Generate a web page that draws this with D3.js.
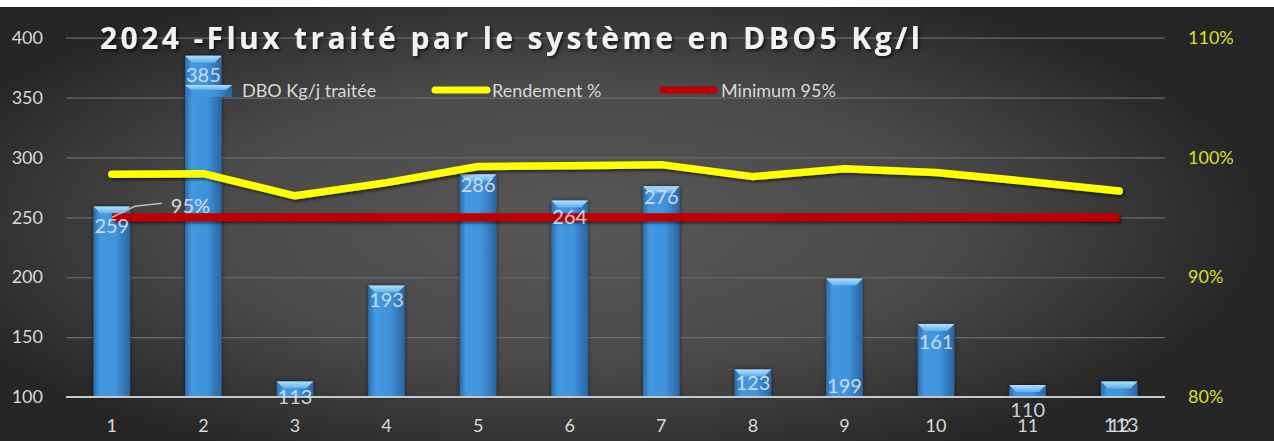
<!DOCTYPE html>
<html>
<head>
<meta charset="utf-8">
<script src="https://cdn.jsdelivr.net/npm/d3@7"></script>
<style>
  html, body { margin: 0; padding: 0; background: #fff; }
  svg { display: block; }
</style>
</head>
<body>
<div id="chart"></div>
<script>
// data
const mois = ["1","2","3","4","5","6","7","8","9","10","11","12"]
const dboTraitee = [259, 385, 113, 193, 286, 264, 276, 123, 199, 161, 110, 113]
const rendement = [98.6, 98.65, 96.8, 97.9, 99.25, 99.3, 99.4, 98.4, 99.05, 98.75, 98.0, 97.2]
const minimum = [95, 95, 95, 95, 95, 95, 95, 95, 95, 95, 95, 95]
const leftTicks = [100, 150, 200, 250, 300, 350, 400]
const rightTicks = [80, 90, 100, 110]

// label nudges (px below bar top), the labels were moved by hand in the original
const labelDy = [19, 19, 16, 14, 11, 16, 11, 14, 108, 18, 25, 44]

const W = 1274, H = 441
const x0 = 66, x1 = 1165, yTop = 37.7, yBot = 397

const svg = d3.select("#chart").append("svg")
    .attr("width", W)
    .attr("height", H)

const defs = svg.append("defs")

/* background */
const bg = defs.append("radialGradient").attr("id", "bg")
    .attr("cx", "45%").attr("cy", "50%").attr("r", "60%")
    .attr("gradientTransform", "translate(0.05,0) scale(0.9,1)")
bg.append("stop").attr("offset", "0%").attr("stop-color", "#585858")
bg.append("stop").attr("offset", "55%").attr("stop-color", "#4a4a4a")
bg.append("stop").attr("offset", "100%").attr("stop-color", "#262626")

const barGrad = defs.append("linearGradient").attr("id", "barGrad")
    .attr("x1", "0").attr("x2", "1").attr("y1", "0").attr("y2", "0")
barGrad.append("stop").attr("offset", "0%").attr("stop-color", "#2c6cab")
barGrad.append("stop").attr("offset", "18%").attr("stop-color", "#4398e0")
barGrad.append("stop").attr("offset", "60%").attr("stop-color", "#3f93dc")
barGrad.append("stop").attr("offset", "100%").attr("stop-color", "#2a65a0")

const bevelGrad = defs.append("linearGradient").attr("id", "bevelGrad")
    .attr("x1", "0").attr("x2", "0").attr("y1", "0").attr("y2", "1")
bevelGrad.append("stop").attr("offset", "0%").attr("stop-color", "#b4e0fb")
bevelGrad.append("stop").attr("offset", "100%").attr("stop-color", "#5fb0ec")

// userSpaceOnUse so the flat red line (zero height box) still gets drawn
const shadow = defs.append("filter").attr("id", "shadow")
    .attr("filterUnits", "userSpaceOnUse")
    .attr("x", 0).attr("y", 0).attr("width", W).attr("height", H)
shadow.append("feDropShadow").attr("dx", 2).attr("dy", 2).attr("stdDeviation", 1.5)
    .attr("flood-color", "#000").attr("flood-opacity", 0.6)

const glow = defs.append("filter").attr("id", "glow")
    .attr("filterUnits", "userSpaceOnUse")
    .attr("x", 0).attr("y", 0).attr("width", W).attr("height", H)
glow.append("feDropShadow").attr("dx", 0).attr("dy", 0).attr("stdDeviation", 2)
    .attr("flood-color", "#000").attr("flood-opacity", 0.55)

svg.append("rect")
    .attr("x", 0).attr("y", 7)
    .attr("width", W).attr("height", H - 7)
    .attr("fill", "url(#bg)")

/* Scales */
const xScale = d3.scaleBand()
    .domain(mois)
    .range([x0, x1])
    .paddingInner(0.6)
    .paddingOuter(0.3)

const yScale = d3.scaleLinear()
    .domain([100, 400])
    .range([yBot, yTop])

const y2Scale = d3.scaleLinear()
    .domain([80, 110])
    .range([yBot, yTop])

const cx = d => xScale(d) + xScale.bandwidth() / 2
const font = "Lato, 'Open Sans', sans-serif"

/* grid */
const yGrid = d3.axisLeft(yScale).tickValues(leftTicks).tickSize(-(x1 - x0)).tickFormat("")
svg.append("g")
    .attr("class", "grid")
    .attr("transform", `translate(${x0},0)`)
    .call(yGrid)
    .call(g => g.select(".domain").remove())
    .call(g => g.selectAll("line")
        .attr("stroke", "#6b6b6b")
        .attr("stroke-width", 1.2))

// left axis labels
const yAxis = d3.axisLeft(yScale).tickValues(leftTicks).tickSize(0).tickPadding(0)
svg.append("g")
    .attr("class", "y-axis")
    .attr("transform", `translate(43,0)`)
    .call(yAxis)
    .call(g => g.select(".domain").remove())
    .call(g => g.selectAll("text")
        .attr("fill", "#d9d9d9")
        .style("font", `18px ${font}`))

// right axis labels
const y2Axis = d3.axisRight(y2Scale).tickValues(rightTicks).tickSize(0).tickPadding(0)
    .tickFormat(d => d + "%")
svg.append("g")
    .attr("class", "y2-axis")
    .attr("transform", `translate(1188,0)`)
    .call(y2Axis)
    .call(g => g.select(".domain").remove())
    .call(g => g.selectAll("text")
        .attr("fill", "#dede2e")
        .style("font", `18px ${font}`))

/* bars */
const bars = svg.append("g").attr("class", "bars")
const bar = bars.selectAll(".bar")
    .data(mois.map((m, i) => [m, dboTraitee[i]]))
    .enter().append("g")
    .attr("class", "bar")
    .attr("filter", "url(#glow)")

bar.append("rect")
    .attr("x", d => xScale(d[0]))
    .attr("y", d => yScale(d[1]))
    .attr("width", xScale.bandwidth())
    .attr("height", d => yBot - yScale(d[1]))
    .attr("fill", "url(#barGrad)")

bar.append("path")
    .attr("d", d => {
        const bx = xScale(d[0]), bw = xScale.bandwidth(), t = yScale(d[1])
        const h = Math.min(7, (yBot - t) * 0.6)
        return `M${bx},${t}L${bx + bw},${t}L${bx + bw - 7},${t + h}L${bx + 7},${t + h}Z`
    })
    .attr("fill", "url(#bevelGrad)")

// x axis line
svg.append("line")
    .attr("x1", x0).attr("x2", x1)
    .attr("y1", yBot).attr("y2", yBot)
    .attr("stroke", "#c8c8c8")
    .attr("stroke-width", 2)

const xAxis = d3.axisBottom(xScale).tickSize(0).tickPadding(0)
svg.append("g")
    .attr("class", "x-axis")
    .attr("transform", `translate(0,${yBot + 22})`)
    .call(xAxis)
    .call(g => g.select(".domain").remove())
    .call(g => g.selectAll("text")
        .attr("fill", "#d9d9d9")
        .style("font", `18px ${font}`))

/* lines */
const line2 = d3.line()
    .x((d, i) => cx(mois[i]))
    .y(d => y2Scale(d))

svg.append("path")
    .datum(minimum)
    .attr("d", line2)
    .attr("fill", "none")
    .attr("stroke", "#c00000")
    .attr("stroke-width", 8)
    .attr("filter", "url(#shadow)")

svg.append("path")
    .datum(rendement)
    .attr("d", line2)
    .attr("fill", "none")
    .attr("stroke", "#ffff00")
    .attr("stroke-width", 7.5)
    .attr("stroke-linecap", "round")
    .attr("stroke-linejoin", "round")
    .attr("filter", "url(#shadow)")

/* bar labels */
svg.append("g").selectAll("text")
    .data(mois.map((m, i) => [m, dboTraitee[i], labelDy[i]]))
    .enter().append("text")
    .attr("x", d => cx(d[0]) + (d[0] === "12" ? 2 : 0))
    .attr("y", d => yScale(d[1]) + d[2])
    .attr("dy", "0.35em")
    .attr("text-anchor", "middle")
    .attr("fill", "#dde6f0")
    .attr("fill-opacity", 0.9)
    .style("font", `20px ${font}`)
    .text(d => d[1])

// 95% label with its leader line, on the first point of the minimum series
const p0x = cx(mois[0]), p0y = y2Scale(minimum[0])
svg.append("path")
    .attr("d", `M${p0x},${p0y}L${p0x + 23},${p0y - 11}L${p0x + 50},${p0y - 14}`)
    .attr("fill", "none")
    .attr("stroke", "#bfbfbf")
    .attr("stroke-width", 1.5)
svg.append("text")
    .attr("x", p0x + 59)
    .attr("y", p0y - 11)
    .attr("dy", "0.35em")
    .attr("fill", "#d9d9d9")
    .style("font", `20px ${font}`)
    .text(minimum[0] + "%")

/* legend */
const legend = svg.append("g").attr("class", "legend")
legend.append("rect")
    .attr("x", 185).attr("y", 85).attr("width", 47).attr("height", 12)
    .attr("fill", "url(#barGrad)")
legend.append("path")
    .attr("d", "M185,85L232,85L226,90L191,90Z")
    .attr("fill", "url(#bevelGrad)")
legend.append("text")
    .attr("x", 242).attr("y", 91).attr("dy", "0.35em")
    .attr("fill", "#d9d9d9")
    .style("font", `18px ${font}`)
    .text("DBO Kg/j traitée")

legend.append("line")
    .attr("x1", 435).attr("x2", 487).attr("y1", 90).attr("y2", 90)
    .attr("stroke", "#ffff00").attr("stroke-width", 7).attr("stroke-linecap", "round")
legend.append("text")
    .attr("x", 492).attr("y", 91).attr("dy", "0.35em")
    .attr("fill", "#d9d9d9")
    .style("font", `18px ${font}`)
    .text("Rendement %")

legend.append("line")
    .attr("x1", 663).attr("x2", 714).attr("y1", 90).attr("y2", 90)
    .attr("stroke", "#c00000").attr("stroke-width", 7).attr("stroke-linecap", "round")
legend.append("text")
    .attr("x", 721).attr("y", 91).attr("dy", "0.35em")
    .attr("fill", "#d9d9d9")
    .style("font", `18px ${font}`)
    .text("Minimum 95%")

/* title */
svg.append("text")
    .attr("x", 100)
    .attr("y", 49)
    .attr("textLength", 820)
    .attr("lengthAdjust", "spacing")
    .attr("fill", "#f2f2f2")
    .attr("filter", "url(#shadow)")
    .style("font", `bold 30px 'Open Sans', sans-serif`)
    .text("2024 -Flux traité par le système en DBO5 Kg/l")
</script>
</body>
</html>
